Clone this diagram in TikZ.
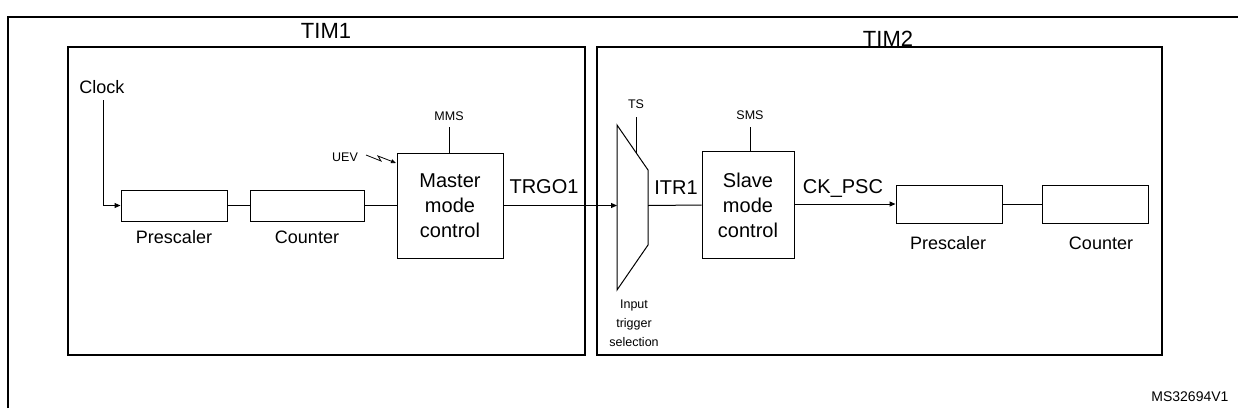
\documentclass[tikz,border=0pt]{standalone}
\usepackage{fontspec}
\setmainfont{Liberation Sans}
\usetikzlibrary{arrows.meta}
\begin{document}
\begin{tikzpicture}[x=1pt,y=-1pt,
  thick frame/.style={line width=2.2pt},
  blk/.style={draw,line width=1pt,inner sep=0pt},
  wire/.style={line width=1pt},
  arr/.style={wire,-{Triangle[length=6pt,width=5pt]}},
  big/.style={font=\fontsize{20}{25}\selectfont,align=center},
  lab/.style={font=\fontsize{18}{22}\selectfont},
  small/.style={font=\fontsize{12.5}{19}\selectfont,align=center}]
\useasboundingbox (0,0) rectangle (1238,408);
% outer frame
\draw[line width=1.6pt] (8,408) -- (8,17) -- (1238,17);
% TIM boxes
\node[draw,thick frame,minimum width=517,minimum height=308,inner sep=0pt] (tim1) at (326.5,201) {};
\node[draw,thick frame,minimum width=565,minimum height=308,inner sep=0pt] (tim2) at (879.5,201) {};
\node[font=\fontsize{22}{26}\selectfont] (t1) at (326,31) {TIM1};
\node[font=\fontsize{22}{26}\selectfont] (t2) at (888,39) {TIM2};
% TIM1 content
\node[lab] (clk) at (102,87) {Clock};
\node[blk,minimum width=106,minimum height=31] (p1) at (174,205.5) {};
\node[blk,minimum width=114,minimum height=31] (c1) at (307,205.5) {};
\node[lab] (p1l) at (174,237) {Prescaler};
\node[lab] (c1l) at (307,237) {Counter};
\node[blk,minimum width=106,minimum height=105,big] (mmc) at (450,205.5) {Master\\mode\\control};
\node[small] (mms) at (449,116) {MMS};
\node[small] (uev) at (345,157) {UEV};
\coordinate (clktop) at (103,100);
\draw[arr] (clktop) |- (p1.west);
\draw[wire] (p1.east) -- (c1.west);
\draw[wire] (c1.east) -- (mmc.west);
\coordinate (mmsb) at (449,127);
\draw[wire] (mmsb) -- (mmc.north -| mmsb);
\coordinate (uevs) at (366,155);
\coordinate (uevz1) at (381,161);
\coordinate (uevz2) at (378,156);
\coordinate (uevend) at (396,163);
\draw[wire,line width=0.8pt,-{Triangle[length=5pt,width=4pt]}] (uevs) -- (uevz1) -- (uevz2) -- (uevend);
\node[big] (trgo) at (544,187) {TRGO1};
% mux
\coordinate (m1) at (617,125);
\coordinate (m2) at (648,170);
\coordinate (m3) at (648,245);
\coordinate (m4) at (617,290);
\draw[wire] (m1) -- (m2) -- (m3) -- (m4) -- cycle;
\coordinate (muxin) at (617,205.5);
\coordinate (muxout) at (648,205.5);
\draw[arr] (mmc.east) -- (muxin);
\node[small] (ts) at (636,104) {TS};
\coordinate (tsb) at (636,117);
\coordinate (tse) at (636,153);
\draw[wire] (tsb) -- (tse);
\node[small,font=\fontsize{12.5}{19}\selectfont] (its) at (634,323) {Input\\trigger\\selection};
% TIM2 content
\node[big] (itr) at (676,188) {ITR1};
\node[blk,minimum width=92,minimum height=107,big] (smc) at (748,205) {Slave\\mode\\control};
\node[small] (sms) at (750,115) {SMS};
\coordinate (smsb) at (750,127);
\draw[wire] (smsb) -- (smc.north -| smsb);
\draw[wire] (muxout) -- (smc.west);
\node[big] (ck) at (843,188) {CK\_PSC};
\node[blk,minimum width=106,minimum height=38] (p2) at (949,204) {};
\node[blk,minimum width=106,minimum height=38] (c2) at (1095,204) {};
\node[lab] (p2l) at (948,243) {Prescaler};
\node[lab] (c2l) at (1101,243) {Counter};
\draw[arr] (smc.east |- p2.west) -- (p2.west);
\draw[wire] (p2.east) -- (c2.west);
\node[font=\fontsize{14}{16}\selectfont,anchor=east] (ms) at (1232,397) {MS32694V1};
\end{tikzpicture}
\end{document}
